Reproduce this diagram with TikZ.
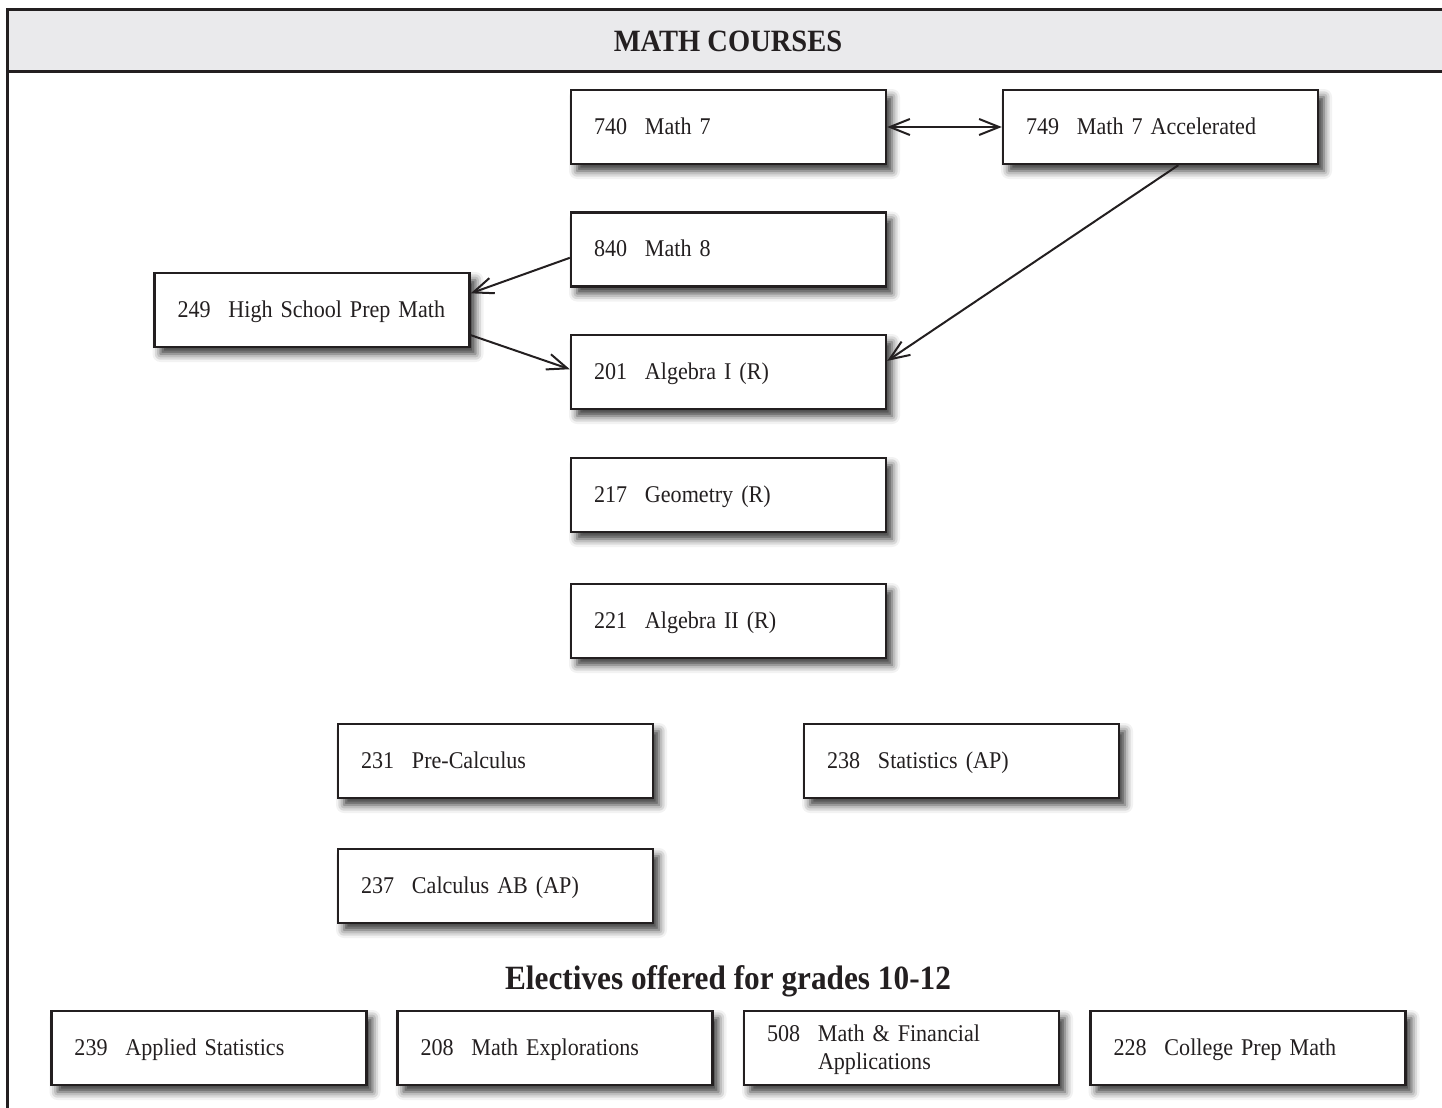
\documentclass[tikz,border=0pt]{standalone}
\usepackage{fontspec}
\setmainfont[FakeStretch=0.92]{Liberation Serif}
\usepackage{tikz}
\usetikzlibrary{arrows.meta,shadows.blur}
\usepackage{xcolor}
\definecolor{ink}{HTML}{231F20}
\definecolor{hdrgray}{HTML}{EAEAEC}
\newcommand{\crsfont}{\fontsize{12}{14}\selectfont\spaceskip=2.5pt plus 1pt minus 0.5pt\relax}
\newcommand{\crs}[2]{\makebox[25.5pt][l]{#1}#2}

\begin{document}
\begin{tikzpicture}[%
	x=0.5pt, y=-0.5pt,
	every node/.style={text=ink, font=\fontsize{12}{14}\selectfont},
	frame/.style={draw=ink, line width=1.5pt},
	course/.style={draw=ink, fill=white, line width=1.2pt, font=\crsfont,
		minimum width=157.5pt, minimum height=37pt,
		text width=134.5pt, inner xsep=11.5pt, align=left,
		text height=9pt, text depth=2pt,
		blur shadow={shadow xshift=3pt, shadow yshift=-3.5pt,
			shadow blur radius=4pt, shadow opacity=80}},
	link/.style={draw=ink, line width=1pt, -{Straight Barb[length=10pt,width=8pt]}}]
	\useasboundingbox (0,0) rectangle (1442,1108);
	% header band
	\fill[hdrgray] (7,9) rectangle (1442,71);
	\draw[frame] (1442,9) -- (7,9) -- (7,1108);
	\draw[frame] (7,71) -- (1442,71);
	\node (title) at (728,41) {\fontsize{15.5}{18}\selectfont\bfseries MATH COURSES};
	% courses
	\node[course] (m740) at (728.5,127) {\crs{740}{Math 7}};
	\node[course] (m749) at (1160.5,127) {\crs{749}{Math 7 Accelerated}};
	\node[course] (m840) at (728.5,249.5) {\crs{840}{Math 8}};
	\node[course] (m249) at (312,310) {\crs{249}{High School Prep Math}};
	\node[course] (m201) at (728.5,372) {\crs{201}{Algebra I (R)}};
	\node[course] (m217) at (728.5,495) {\crs{217}{Geometry (R)}};
	\node[course] (m221) at (728.5,621) {\crs{221}{Algebra II (R)}};
	\node[course] (m231) at (495.5,761) {\crs{231}{Pre-Calculus}};
	\node[course] (m238) at (961.5,761) {\crs{238}{Statistics (AP)}};
	\node[course] (m237) at (495.5,886) {\crs{237}{Calculus AB (AP)}};
	% electives
	\node (elect) at (728,981) {\fontsize{17}{20}\selectfont\bfseries Electives offered for grades 10-12};
	\node[course] (e239) at (209,1048) {\crs{239}{Applied Statistics}};
	\node[course] (e208) at (555,1048) {\crs{208}{Math Explorations}};
	\node[course, text depth=15.5pt] (e508) at (901.5,1048) {\crs{508}{\begin{tabular}[t]{@{}l@{}}Math \& Financial\\Applications\end{tabular}}};
	\node[course] (e228) at (1248,1048) {\crs{228}{College Prep Math}};
	% arrows
	\draw[link, {Straight Barb[length=10pt,width=8pt]}-{Straight Barb[length=10pt,width=8pt]}] (m740) -- (m749);
	\draw[link] (m749.-65) -- (m201.4);
	\draw[link] (m840.183) -- (m249.6);
	\draw[link] (m249.-9) -- (m201.179);
\end{tikzpicture}
\end{document}
